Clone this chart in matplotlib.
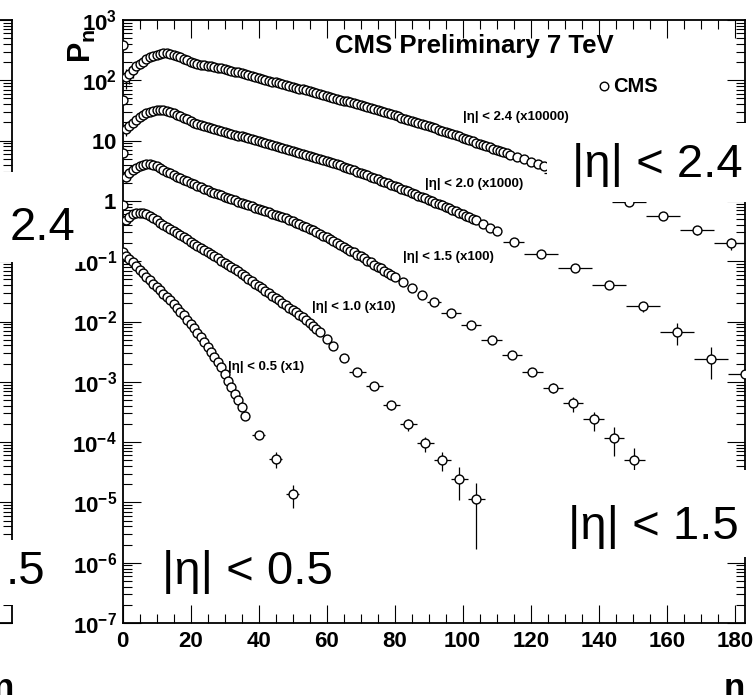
import numpy as np
import matplotlib
matplotlib.use('Agg')
import matplotlib.pyplot as plt
from matplotlib.patches import Rectangle
from matplotlib.ticker import FixedLocator, LogLocator, NullFormatter

plt.rcParams['font.family'] = ['Liberation Sans', 'DejaVu Sans']
plt.rcParams['mathtext.fontset'] = 'custom'
plt.rcParams['mathtext.rm'] = 'Liberation Sans:bold'
plt.rcParams['mathtext.bf'] = 'Liberation Sans:bold'
plt.rcParams['mathtext.it'] = 'Liberation Sans:bold'

# ---- multiplicity distributions, log10(P_n) after scaling ----
# |eta| < 2.4 (x10000): single-n points, then wider bins
logp_eta24 = [
    2.59, 2.05, 2.10, 2.17, 2.23, 2.27, 2.31, 2.35, 2.38, 2.40,
    2.42, 2.435, 2.445, 2.447, 2.44, 2.425, 2.405, 2.385, 2.36, 2.335,
    2.31, 2.29, 2.275, 2.26, 2.25, 2.24, 2.23, 2.22, 2.21, 2.20,
    2.185, 2.17, 2.16, 2.145, 2.13, 2.115, 2.10, 2.085, 2.07, 2.055,
    2.04, 2.025, 2.01, 1.995, 1.98, 1.966, 1.952, 1.937, 1.922, 1.907,
    1.892, 1.878, 1.864, 1.849, 1.834, 1.818, 1.803, 1.788, 1.772, 1.757,
    1.742, 1.727, 1.711, 1.696, 1.681, 1.665, 1.65, 1.634, 1.618, 1.602,
    1.586, 1.57, 1.553, 1.536, 1.519, 1.502, 1.485, 1.468, 1.451, 1.434,
    1.417, 1.40, 1.382, 1.364, 1.346, 1.328, 1.31, 1.292, 1.274, 1.256,
    1.238, 1.22, 1.201, 1.182, 1.163, 1.144, 1.125, 1.106, 1.087, 1.068,
    1.048, 1.028, 1.008, 0.988, 0.968, 0.948, 0.928, 0.908, 0.888, 0.868,
    0.848, 0.828, 0.808, 0.788, 0.768]
syst_eta24 = [0.0, 0.35, 0.30, 0.25, 0.20, 0.15, 0.10]
n_bin_eta24 = [116, 118, 120, 122, 124, 129, 139, 149, 159, 169, 179]
w_bin_eta24 = [1, 1, 1, 1, 1, 5, 5, 5, 5, 5, 5]
logp_bin_eta24 = [0.728, 0.688, 0.648, 0.615, 0.58, 0.47, 0.23, -0.018, -0.256, -0.488, -0.70]
err_bin_eta24 = [0.02, 0.02, 0.02, 0.02, 0.02, 0.05, 0.08, 0.10, 0.12, 0.16, 0.22]

# |eta| < 2.0 (x1000)
logp_eta20 = [
    1.68, 1.20, 1.25, 1.30, 1.345, 1.385, 1.42, 1.45, 1.475, 1.495,
    1.51, 1.515, 1.51, 1.495, 1.475, 1.45, 1.425, 1.40, 1.375, 1.35,
    1.325, 1.30, 1.28, 1.26, 1.244, 1.228, 1.212, 1.196, 1.18, 1.164,
    1.148, 1.132, 1.116, 1.10, 1.084, 1.068, 1.052, 1.036, 1.02, 1.004,
    0.988, 0.972, 0.956, 0.94, 0.924, 0.908, 0.892, 0.876, 0.86, 0.844,
    0.828, 0.812, 0.796, 0.78, 0.763, 0.746, 0.729, 0.712, 0.695, 0.678,
    0.661, 0.644, 0.627, 0.608, 0.588, 0.568, 0.548, 0.527, 0.506, 0.485,
    0.464, 0.443, 0.422, 0.401, 0.38, 0.358, 0.336, 0.314, 0.292, 0.27,
    0.248, 0.226, 0.203, 0.18, 0.157, 0.134, 0.111, 0.088, 0.065, 0.042,
    0.019, -0.004, -0.028, -0.052, -0.076, -0.10, -0.124, -0.148, -0.172, -0.196,
    -0.22, -0.245, -0.27, -0.297, -0.325]
syst_eta20 = [0.0, 0.25, 0.20, 0.15, 0.10]
n_bin_eta20 = [106, 108, 110, 115, 123, 133, 143, 153, 163, 173, 183]
w_bin_eta20 = [1, 1, 1, 3, 5, 5, 5, 5, 5, 5, 5]
logp_bin_eta20 = [-0.385, -0.445, -0.505, -0.683, -0.887, -1.114, -1.39, -1.75, -2.166, -2.615, -2.87]
err_bin_eta20 = [0.02, 0.02, 0.02, 0.03, 0.05, 0.07, 0.12, 0.20, 0.40, 0.55, 0.65]

# |eta| < 1.5 (x100)
logp_eta15 = [
    0.80, 0.39, 0.46, 0.51, 0.55, 0.58, 0.60, 0.615, 0.615, 0.60,
    0.575, 0.545, 0.515, 0.485, 0.455, 0.425, 0.40, 0.375, 0.35, 0.325,
    0.30, 0.275, 0.25, 0.225, 0.20, 0.175, 0.15, 0.13, 0.11, 0.09,
    0.07, 0.05, 0.03, 0.01, -0.01, -0.03, -0.05, -0.07, -0.09, -0.11,
    -0.13, -0.15, -0.17, -0.19, -0.21, -0.23, -0.25, -0.27, -0.29, -0.31,
    -0.335, -0.36, -0.385, -0.41, -0.44, -0.465, -0.49, -0.52, -0.545, -0.575,
    -0.605, -0.635, -0.665, -0.695, -0.73, -0.76, -0.79, -0.825, -0.855, -0.89,
    -0.92, -0.955, -0.99, -1.02, -1.055, -1.09, -1.12, -1.155, -1.19, -1.225,
    -1.26]
syst_eta15 = [0.0, 0.15, 0.10, 0.07]
n_bin_eta15 = [82.5, 85, 88, 91.5, 96.5, 102.5, 108.5, 114.5, 120.5, 126.5,
               132.5, 138.5, 144.5, 150.5]
w_bin_eta15 = [1, 1.5, 1.5, 2, 3, 3, 3, 3, 3, 3, 3, 3, 3, 3]
logp_bin_eta15 = [-1.34, -1.44, -1.557, -1.68, -1.862, -2.06, -2.30, -2.56, -2.83, -3.096,
                  -3.357, -3.623, -3.932, -4.29]
err_bin_eta15 = [0.02, 0.02, 0.03, 0.03, 0.05, 0.07, 0.09, 0.12, 0.16, 0.20,
                 0.28, 0.35, 0.50, 0.55]

# |eta| < 1.0 (x10)
logp_eta10 = [
    -0.07, -0.31, -0.26, -0.225, -0.205, -0.195, -0.20, -0.22, -0.255, -0.29,
    -0.325, -0.36, -0.395, -0.43, -0.465, -0.50, -0.535, -0.57, -0.605, -0.64,
    -0.675, -0.71, -0.745, -0.78, -0.815, -0.85, -0.885, -0.92, -0.955, -0.99,
    -1.025, -1.06, -1.095, -1.13, -1.17, -1.21, -1.25, -1.29, -1.33, -1.37,
    -1.41, -1.45, -1.49, -1.53, -1.57, -1.61, -1.65, -1.69, -1.73, -1.77,
    -1.81, -1.85, -1.89, -1.93, -1.97, -2.02, -2.07, -2.12, -2.17]
syst_eta10 = [0.0, 0.08, 0.05]
n_bin_eta10 = [60, 62, 65, 69, 74, 79, 84, 89, 94, 99, 104]
w_bin_eta10 = [1, 1, 1.5, 2.5, 2.5, 2.5, 2.5, 2.5, 2.5, 2.5, 2.5]
logp_bin_eta10 = [-2.29, -2.41, -2.60, -2.83, -3.075, -3.38, -3.70, -4.02, -4.30, -4.61, -4.945]
err_bin_eta10 = [0.02, 0.02, 0.03, 0.08, 0.12, 0.17, 0.22, 0.28, 0.35, 0.55, 0.85]

# |eta| < 0.5 (x1)
logp_eta05 = [
    -0.84, -0.92, -0.96, -1.02, -1.08, -1.14, -1.20, -1.26, -1.31, -1.37,
    -1.43, -1.485, -1.54, -1.595, -1.65, -1.71, -1.77, -1.84, -1.90, -1.97,
    -2.04, -2.11, -2.19, -2.26, -2.34, -2.42, -2.51, -2.59, -2.67, -2.76,
    -2.87, -2.98, -3.09, -3.20, -3.30, -3.42, -3.57]
syst_eta05 = [0.0]
n_bin_eta05 = [40, 45, 50]
w_bin_eta05 = [2, 2, 2]
logp_bin_eta05 = [-3.877, -4.28, -4.86]
err_bin_eta05 = [0.15, 0.30, 0.42]

series_labels = ['|\u03b7| < 2.4 (x10000)', '|\u03b7| < 2.0 (x1000)',
                 '|\u03b7| < 1.5 (x100)', '|\u03b7| < 1.0 (x10)', '|\u03b7| < 0.5 (x1)']

y_ticks = [1e-7, 1e-6, 1e-5, 1e-4, 1e-3, 1e-2, 1e-1, 1, 10, 1e2, 1e3]
y_tick_labels = [r'$10^{-7}$', r'$10^{-6}$', r'$10^{-5}$', r'$10^{-4}$', r'$10^{-3}$',
                 r'$10^{-2}$', r'$10^{-1}$', r'$1$', r'$10$', r'$10^{2}$', r'$10^{3}$']
x_ticks = [0, 20, 40, 60, 80, 100, 120, 140, 160, 180]

W, H = 754, 695


def fxy(x, y):
    # pixel position (origin top-left) -> figure fraction
    return x / W, 1 - y / H


def draw_series(ax, logp_single, syst, n_bin, w_bin, logp_bin, err_bin):
    n1 = np.arange(len(logp_single))
    p1 = 10.0 ** np.array(logp_single)
    rel1 = np.zeros(len(p1))
    rel1[:len(syst)] = syst
    n2 = np.array(n_bin, float)
    p2 = 10.0 ** np.array(logp_bin)
    rel2 = np.array(err_bin)
    n = np.concatenate([n1, n2])
    p = np.concatenate([p1, p2])
    xe = np.concatenate([np.full(len(n1), 0.5), np.array(w_bin, float)])
    ye = np.concatenate([rel1, rel2]) * p
    ax.errorbar(n, p, xerr=xe, yerr=ye, fmt='none', ecolor='black',
                elinewidth=0.9, capsize=0, zorder=2)
    ax.plot(n, p, 'o', ms=6.4, mfc='white', mec='black', mew=1.0, zorder=3)


fig = plt.figure(figsize=(W / 100, H / 100), dpi=100)
ax_l, ax_b = fxy(122.5, 623)
ax_r, ax_t = fxy(745, 20)
ax = fig.add_axes([ax_l, ax_b, ax_r - ax_l, ax_t - ax_b])

draw_series(ax, logp_eta24, syst_eta24, n_bin_eta24, w_bin_eta24, logp_bin_eta24, err_bin_eta24)
draw_series(ax, logp_eta20, syst_eta20, n_bin_eta20, w_bin_eta20, logp_bin_eta20, err_bin_eta20)
draw_series(ax, logp_eta15, syst_eta15, n_bin_eta15, w_bin_eta15, logp_bin_eta15, err_bin_eta15)
draw_series(ax, logp_eta10, syst_eta10, n_bin_eta10, w_bin_eta10, logp_bin_eta10, err_bin_eta10)
draw_series(ax, logp_eta05, syst_eta05, n_bin_eta05, w_bin_eta05, logp_bin_eta05, err_bin_eta05)

ax.set_yscale('log')
ax.set_xlim(0, 183)
ax.set_ylim(1e-7, 1e3)
ax.xaxis.set_major_locator(FixedLocator(x_ticks))
ax.xaxis.set_minor_locator(FixedLocator(np.arange(0, 185, 5)))
ax.set_xticklabels([str(t) for t in x_ticks], fontsize=16, fontweight='bold')
ax.yaxis.set_major_locator(FixedLocator(y_ticks))
ax.set_yticklabels(y_tick_labels, fontsize=16)
ax.yaxis.set_minor_locator(LogLocator(base=10, subs=np.arange(2, 10), numticks=50))
ax.yaxis.set_minor_formatter(NullFormatter())
ax.tick_params(which='both', direction='in', top=True, right=True, width=0.8)
ax.tick_params(which='major', length=13, pad=6)
ax.tick_params(axis='y', which='major', pad=4)
ax.tick_params(which='minor', length=6.5)
for s in ax.spines.values():
    s.set_linewidth(1.3)

# edge of the neighbouring panel on the left
ax2 = fig.add_axes([-0.5, ax_b, 0.5 + 12 / W, ax_t - ax_b])
ax2.set_yscale('log')
ax2.set_ylim(1e-7, 1e3)
ax2.set_xlim(0, 1)
ax2.spines['left'].set_visible(False)
for s in ax2.spines.values():
    s.set_linewidth(1.3)
ax2.yaxis.set_major_locator(FixedLocator(y_ticks))
ax2.yaxis.set_minor_locator(LogLocator(base=10, subs=np.arange(2, 10), numticks=50))
ax2.yaxis.set_minor_formatter(NullFormatter())
ax2.tick_params(which='both', direction='in', left=False, right=True,
                labelleft=False, labelright=False, bottom=False, labelbottom=False, width=0.8)
ax2.tick_params(which='major', length=13)
ax2.tick_params(which='minor', length=6.5)

# axis titles
fig.text(*fxy(734, 672), 'n', fontsize=25, fontweight='bold', ha='center', va='top')
fig.text(*fxy(14, 672), 'n', fontsize=25, fontweight='bold', ha='right', va='top')
fig.text(*fxy(82, 46), r'$P_{n}$', fontsize=22, rotation=90, ha='center', va='center')

fig.text(*fxy(474, 46), 'CMS Preliminary 7 TeV', fontsize=18.5, fontweight='bold',
         ha='center', va='center')
fig.add_artist(plt.Line2D([fxy(604, 0)[0]], [fxy(0, 86)[1]], marker='o', ms=6.2,
                          mfc='white', mec='black', mew=1.0, transform=fig.transFigure))
fig.text(*fxy(613, 86), 'CMS', fontsize=14.5, fontweight='bold', ha='left', va='center')

label_pos = [(463, 117), (425, 184), (403, 257), (312, 307), (228, 367)]
for text, (x, y) in zip(series_labels, label_pos):
    fig.text(*fxy(x, y), text, fontsize=9.5, fontweight='bold', ha='left', va='center')

# large range captions with white boxes
boxes = [(547, 123, 220, 79), (560, 470, 200, 87), (150, 535, 200, 70),
         (-10, 172, 95, 90), (-10, 540, 70, 65)]
for x, y, w, h in boxes:
    x0, y1 = fxy(x, y + h)
    fig.add_artist(Rectangle((x0, y1), w / W, h / H, transform=fig.transFigure,
                             fc='white', ec='none', zorder=5))
captions = [(572, 165, '|\u03b7| < 2.4', 'left'), (568, 527, '|\u03b7| < 1.5', 'left'),
            (162, 572, '|\u03b7| < 0.5', 'left'), (75, 228, '2.4', 'right'),
            (45, 572, '.5', 'right')]
for x, y, text, ha in captions:
    fig.text(*fxy(x, y), text, fontsize=34, ha=ha, va='center', zorder=6)

fig.savefig('out.png', dpi=100)
